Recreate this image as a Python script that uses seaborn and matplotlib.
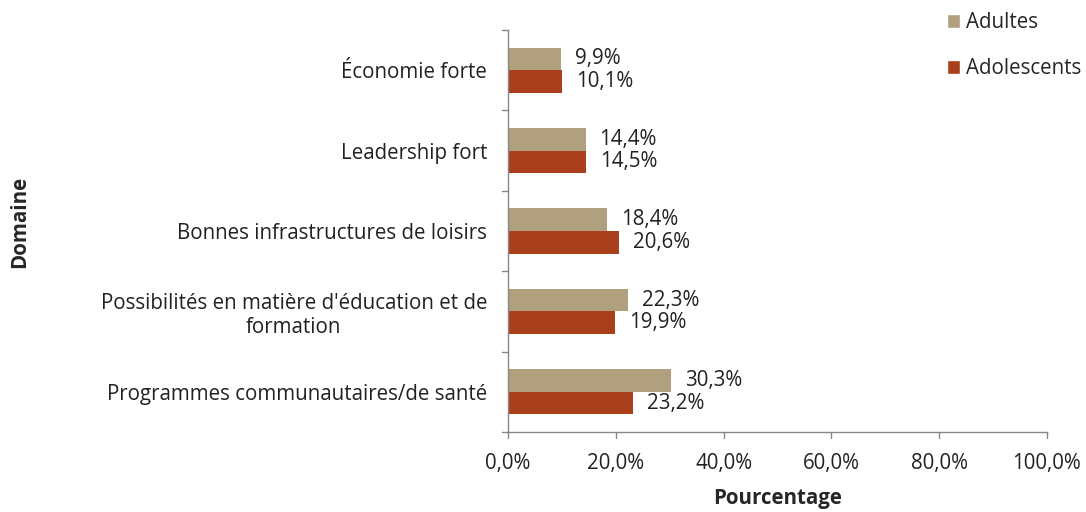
import matplotlib
matplotlib.use("Agg")
import matplotlib.pyplot as plt
import seaborn as sns
import pandas as pd
from matplotlib.patches import Patch

categories = ["Économie forte", "Leadership fort", "Bonnes infrastructures de loisirs",
              "Possibilités en matière d'éducation et de\nformation",
              "Programmes communautaires/de santé"]
adultes = [9.9, 14.4, 18.4, 22.3, 30.3]
adolescents = [10.1, 14.5, 20.6, 19.9, 23.2]
series = ["Adultes", "Adolescents"]
xticks = [0, 20, 40, 60, 80, 100]

colors = {"Adultes": "#B0A07E", "Adolescents": "#AA401B"}

rows = []
for c, a, b in zip(categories, adultes, adolescents):
    rows.append({"Domaine": c, "Groupe": "Adultes", "Valeur": a})
    rows.append({"Domaine": c, "Groupe": "Adolescents", "Valeur": b})
df = pd.DataFrame(rows)

sns.set_style("white")
plt.rcParams['font.family'] = ['Open Sans', 'DejaVu Sans']
FS = 14.8

fig = plt.figure(figsize=(10.86, 5.12), dpi=100)
ax = fig.add_axes([508/1086, 1-432/512, (1047-508)/1086, (432-30)/512])

sns.barplot(data=df, y="Domaine", x="Valeur", hue="Groupe", order=categories,
            hue_order=series, palette=colors, orient="h", width=0.56,
            ax=ax, legend=False, saturation=1, errorbar=None, linewidth=0)

for cont in ax.containers:
    ax.bar_label(cont, labels=[f"{v:.1f}".replace(".", ",") + "%" for v in cont.datavalues],
                 padding=10, fontsize=FS, color="#222222")

ax.set_xlim(0, 100)
ax.set_ylim(len(categories) - 0.5, -0.5)
ax.set_xticks(xticks)
ax.set_xticklabels([f"{t:.1f}".replace(".", ",") + "%" for t in xticks], fontsize=FS, color="#222222")
ax.set_yticks(range(len(categories)))
ax.set_yticklabels(categories, fontsize=FS, color="#222222")
for lab in ax.get_yticklabels():
    lab.set_multialignment("center")
ax.tick_params(axis="y", length=0, pad=15)
ax.tick_params(axis="x", length=0, pad=15)

# boundary ticks
for yb in [i - 0.5 for i in range(len(categories) + 1)]:
    ax.plot([-0.012, 0], [yb, yb], transform=ax.get_yaxis_transform(), color="#888888", lw=1, clip_on=False)
for xt in xticks:
    ax.plot([xt, xt], [0, -0.015], transform=ax.get_xaxis_transform(), color="#888888", lw=1, clip_on=False)

for s in ["top", "right"]:
    ax.spines[s].set_visible(False)
for s in ["left", "bottom"]:
    ax.spines[s].set_color("#888888")
    ax.spines[s].set_linewidth(1)

ax.set_xlabel("Pourcentage", fontsize=FS, fontweight="bold", labelpad=10)
ax.set_ylabel("")
fig.text(20/1086, 1-222/512, "Domaine", rotation=90, fontsize=FS, fontweight="bold",
         ha="center", va="center")

handles = [Patch(facecolor=colors[s], label=s) for s in series]
fig.legend(handles=handles, loc="upper left", bbox_to_anchor=(928/1086, 1+6/512),
           frameon=False, fontsize=FS, handlelength=0.65, handleheight=0.65,
           handletextpad=0.3, labelspacing=1.2)

fig.savefig("out.png", dpi=100)
